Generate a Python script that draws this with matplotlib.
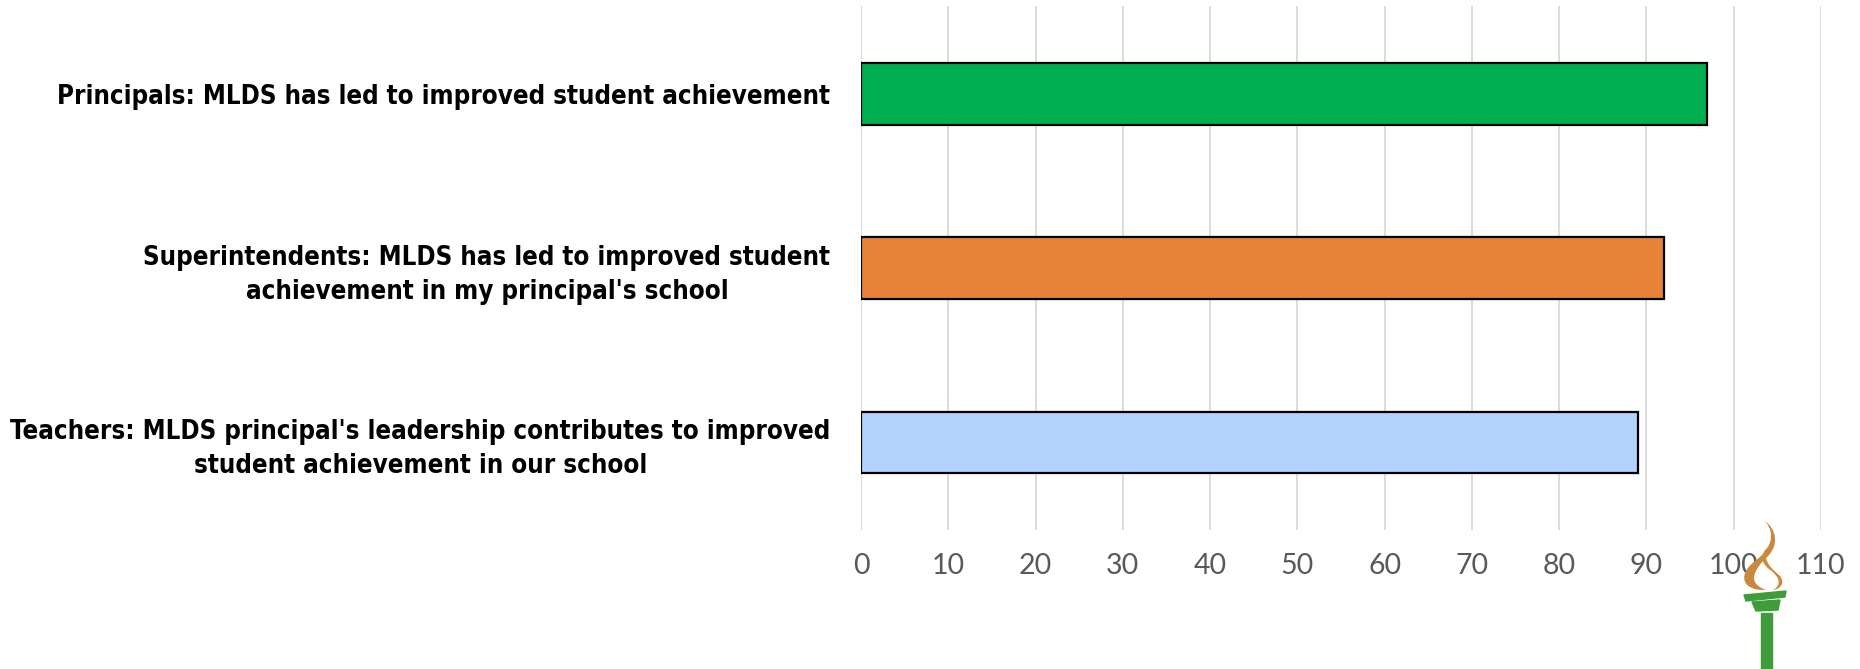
import matplotlib
matplotlib.use("Agg")
import matplotlib.pyplot as plt
from matplotlib.patches import Polygon, Rectangle, PathPatch
from matplotlib.path import Path

# survey statements and share agreeing (%)
statements = [
    "Principals: MLDS has led to improved student achievement",
    "Superintendents: MLDS has led to improved student\nachievement in my principal's school",
    "Teachers: MLDS principal's leadership contributes to improved\nstudent achievement in our school",
]
agree_pct = [97, 92, 89]
bar_colors = ["#00b050", "#e8833a", "#b4d2fe"]
x_ticks = list(range(0, 111, 10))

tick_font = ["Lato", "DejaVu Sans"]

fig = plt.figure(figsize=(18.6, 6.69), dpi=100)
ax = fig.add_axes([0.4629, 0.2084, 0.5161, 0.7819])

ypos = list(range(len(statements)))
ax.barh(ypos, agree_pct, height=0.354, color=bar_colors,
        edgecolor="black", linewidth=1.6, zorder=3)

ax.set_xlim(0, 110)
ax.set_ylim(2.5, -0.5)
ax.set_xticks(x_ticks)
ax.set_xticklabels([str(t) for t in x_ticks], fontsize=20.5,
                   color="#595959", family=tick_font)
ax.set_yticks(ypos)
ax.set_yticklabels(statements, fontsize=18.5, fontweight="bold",
                   family="DejaVu Sans", fontstretch="condensed",
                   multialignment="center", linespacing=1.4)
ax.tick_params(axis="both", length=0)
ax.tick_params(axis="x", pad=17)
ax.tick_params(axis="y", pad=22)
ax.grid(axis="x", color="#d9d9d9", linewidth=1.3, zorder=0)
for s in ax.spines.values():
    s.set_visible(False)

# torch emblem in the lower right corner (pixel coords from the top-left)
W, H = 1860, 669


def fx(x):
    return x / W


def fy(y):
    return 1 - y / H


green = "#3f9c3b"
flame = "#c98a3e"

# handle
fig.patches.append(Rectangle((fx(1761), fy(669)), fx(11), 56 / H,
                             transform=fig.transFigure, color=green))
# cup
fig.patches.append(Polygon([(fx(1752), fy(602)), (fx(1780), fy(600)),
                            (fx(1778), fy(610)), (fx(1756), fy(611))],
                           closed=True, transform=fig.transFigure, color=green))
# rim
fig.patches.append(Polygon([(fx(1744), fy(595)), (fx(1786), fy(591)),
                            (fx(1785), fy(597)), (fx(1746), fy(601))],
                           closed=True, transform=fig.transFigure, color=green))

# outer flame
outer = Path([(fx(1765), fy(521)), (fx(1777), fy(535)), (fx(1770), fy(550)),
              (fx(1755), fy(561)), (fx(1737), fy(575)), (fx(1742), fy(591)),
              (fx(1766), fy(590)), (fx(1752), fy(585)), (fx(1749), fy(576)),
              (fx(1764), fy(560)), (fx(1782), fy(545)), (fx(1775), fy(528)),
              (fx(1765), fy(521))],
             [Path.MOVETO, Path.CURVE4, Path.CURVE4, Path.CURVE4,
              Path.CURVE4, Path.CURVE4, Path.CURVE4, Path.CURVE4,
              Path.CURVE4, Path.CURVE4, Path.CURVE4, Path.CURVE4,
              Path.CURVE4])
fig.patches.append(PathPatch(outer, transform=fig.transFigure,
                             facecolor=flame, edgecolor="none"))
# inner flame
inner = Path([(fx(1768), fy(547)), (fx(1761), fy(560)), (fx(1772), fy(569)),
              (fx(1779), fy(575)), (fx(1786), fy(582)), (fx(1781), fy(589)),
              (fx(1773), fy(590)), (fx(1782), fy(585)), (fx(1780), fy(577)),
              (fx(1769), fy(569)), (fx(1758), fy(561)), (fx(1763), fy(551)),
              (fx(1768), fy(547))],
             [Path.MOVETO, Path.CURVE4, Path.CURVE4, Path.CURVE4,
              Path.CURVE4, Path.CURVE4, Path.CURVE4, Path.CURVE4,
              Path.CURVE4, Path.CURVE4, Path.CURVE4, Path.CURVE4,
              Path.CURVE4])
fig.patches.append(PathPatch(inner, transform=fig.transFigure,
                             facecolor=flame, edgecolor="none"))

fig.savefig("out.png", dpi=100)
